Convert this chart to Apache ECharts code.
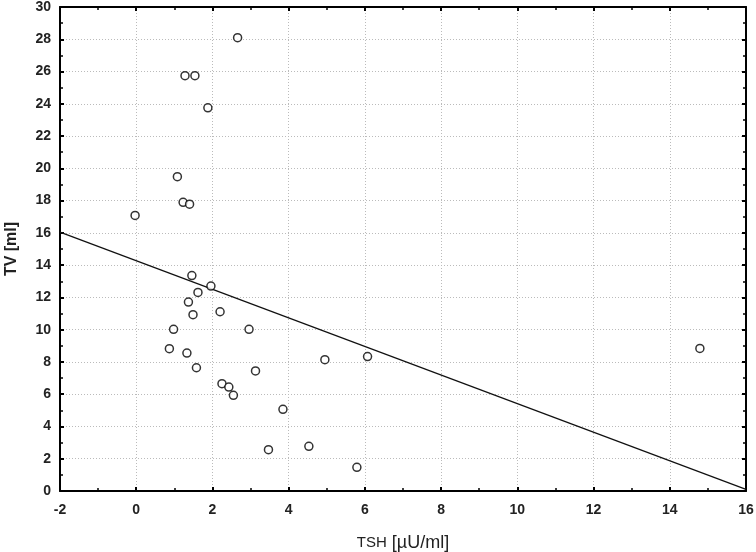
<!DOCTYPE html>
<html>
<head>
<meta charset="utf-8">
<script src="https://cdn.jsdelivr.net/npm/echarts@6/dist/echarts.min.js"></script>
<style>html,body{margin:0;padding:0;background:#fff}#c{width:756px;height:552px}</style>
</head>
<body>
<div id="c"></div>
<script>
const tshValues = [2.66, 1.28, 1.54, 1.88, 1.08, 1.23, 1.40, -0.03, 1.46, 1.96, 1.62, 1.37, 1.49, 2.20, 0.98, 2.96, 0.87, 1.33, 1.58, 3.13, 4.95, 6.07, 2.25, 2.43, 2.55, 3.85, 3.47, 4.53, 5.79, 14.79];
const tvValues  = [28.1, 25.74, 25.74, 23.75, 19.48, 17.89, 17.78, 17.08, 13.35, 12.70, 12.31, 11.71, 10.93, 11.11, 10.02, 10.02, 8.82, 8.55, 7.64, 7.44, 8.14, 8.33, 6.65, 6.44, 5.93, 5.06, 2.56, 2.77, 1.47, 8.84];
const fitX = [-2, 16];
const fitY = [16.05, 0.1];

const points = tshValues.map((x, i) => [x, tvValues[i]]);
const fitLine = fitX.map((x, i) => [x, fitY[i]]);

const font = 'Liberation Sans, Arial, sans-serif';
const labelStyle = { color: '#222', fontSize: 14, fontWeight: 'bold', fontFamily: font };
const split = { show: true, lineStyle: { color: '#bbb', type: [1, 2], width: 1 } };
const frameLine = { show: true, onZero: false, lineStyle: { color: '#000', width: 2 } };
const tick = { show: true, inside: true, length: 4, lineStyle: { color: '#000', width: 2 } };
const minor = { show: true, splitNumber: 2, length: 3, lineStyle: { color: '#000', width: 1.5 } };

const chart = echarts.init(document.getElementById('c'), null, { renderer: 'canvas' });
chart.setOption({
  animation: false,
  backgroundColor: '#fff',
  grid: { left: 60, right: 10, top: 7, bottom: 61, containLabel: false, outerBoundsMode: 'none' },
  xAxis: [
    { type: 'value', min: -2, max: 16, interval: 2, position: 'bottom',
      axisLine: frameLine, axisTick: tick, minorTick: minor,
      axisLabel: Object.assign({ margin: 12 }, labelStyle),
      splitLine: split,
      name: '{s|TSH} [µU/ml]', nameLocation: 'middle', nameGap: 43,
      nameTextStyle: { color: '#222', fontSize: 18, fontFamily: font,
        rich: { s: { fontSize: 15, fontFamily: font, color: '#222' } } }
    },
    { type: 'value', min: -2, max: 16, interval: 2, position: 'top',
      axisLine: frameLine, axisTick: tick, minorTick: minor,
      axisLabel: { show: false }, splitLine: { show: false }
    }
  ],
  yAxis: [
    { type: 'value', min: 0, max: 30, interval: 2, position: 'left',
      axisLine: frameLine, axisTick: tick, minorTick: minor,
      axisLabel: Object.assign({ margin: 9 }, labelStyle),
      splitLine: split,
      name: 'TV [ml]', nameLocation: 'middle', nameGap: 40, nameRotate: 90,
      nameTextStyle: { color: '#222', fontSize: 16, fontWeight: 'bold', fontFamily: font }
    },
    { type: 'value', min: 0, max: 30, interval: 2, position: 'right',
      axisLine: frameLine, axisTick: tick, minorTick: minor,
      axisLabel: { show: false }, splitLine: { show: false }
    }
  ],
  series: [
    { type: 'line', data: fitLine, xAxisIndex: 0, yAxisIndex: 0, symbol: 'none',
      lineStyle: { color: '#111', width: 1.3 }, z: 3 },
    { type: 'scatter', data: points, xAxisIndex: 0, yAxisIndex: 0, symbol: 'circle', symbolSize: 8,
      itemStyle: { color: '#fff', borderColor: '#000', borderWidth: 1.5 }, z: 4 }
  ]
});
</script>
</body>
</html>
